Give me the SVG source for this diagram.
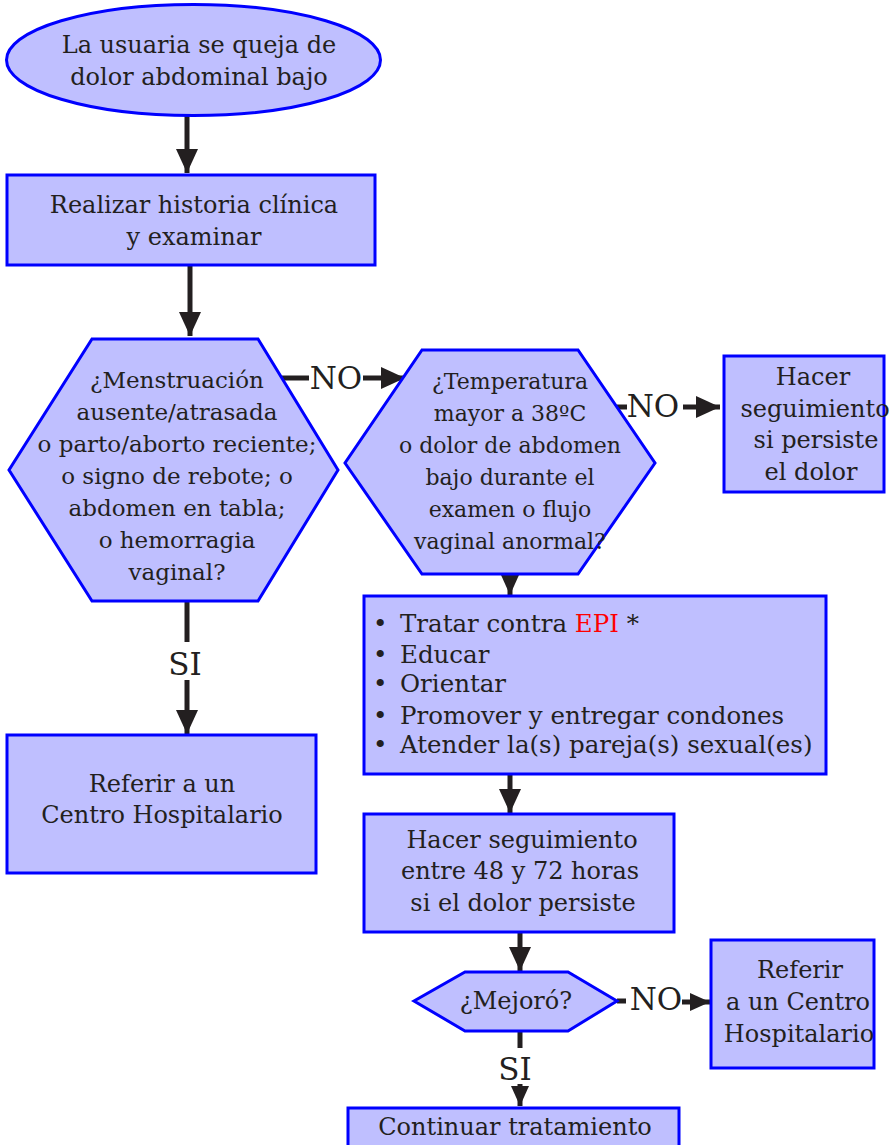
<svg xmlns="http://www.w3.org/2000/svg" width="891" height="1145" viewBox="0 0 891 1145">
  <style>
    .node { fill: #BFBFFF; stroke: #0000FF; stroke-width: 3; }
    .t { font-family: "DejaVu Serif", "Liberation Serif", serif; fill: #231F20; text-anchor: middle; }
    .t24 { font-size: 24px; }
    .t23 { font-size: 23px; }
    .t22 { font-size: 22px; }
    .lbl { font-family: "DejaVu Serif", "Liberation Serif", serif; fill: #231F20; font-size: 31px; text-anchor: middle; }
    .bul { font-family: "DejaVu Serif", "Liberation Serif", serif; fill: #231F20; font-size: 24.5px; }
    .edge { stroke: #231F20; stroke-width: 5; fill: none; }
  </style>
  <defs>
    <marker id="arrow" markerUnits="userSpaceOnUse" markerWidth="24" markerHeight="22" refX="24" refY="11" orient="auto">
      <path d="M0,0 L24,11 L0,22 Z" fill="#231F20"/>
    </marker>
    <marker id="arrowSmall" markerUnits="userSpaceOnUse" markerWidth="20" markerHeight="20" refX="20" refY="10" orient="auto">
      <path d="M0,1 L20,10 L0,19 Z" fill="#231F20"/>
    </marker>
  </defs>

  <!-- connectors -->
  <g id="connectors">
    <line class="edge" x1="187" y1="116" x2="187" y2="173" marker-end="url(#arrow)"/>
    <line class="edge" x1="190" y1="266" x2="190" y2="336" marker-end="url(#arrow)"/>
    <!-- hex1 NO -> hex2 -->
    <line class="edge" x1="282" y1="378" x2="309" y2="378"/>
    <line class="edge" x1="363" y1="378" x2="405" y2="378" marker-end="url(#arrow)"/>
    <text class="lbl" x="336" y="389">NO</text>
    <!-- hex1 SI -> referir -->
    <line class="edge" x1="187" y1="601" x2="187" y2="642"/>
    <line class="edge" x1="187" y1="680" x2="187" y2="734" marker-end="url(#arrow)"/>
    <text class="lbl" x="185" y="675">SI</text>
    <!-- hex2 NO -> seguimiento -->
    <line class="edge" x1="617" y1="407" x2="627" y2="407"/>
    <line class="edge" x1="683" y1="407" x2="720" y2="407" marker-end="url(#arrow)"/>
    <text class="lbl" x="653" y="417">NO</text>
    <!-- hex2 -> tratar -->
    <line class="edge" x1="510" y1="574" x2="510" y2="595" marker-end="url(#arrowSmall)"/>
    <!-- tratar -> seguimiento 48-72 -->
    <line class="edge" x1="510" y1="775" x2="510" y2="813" marker-end="url(#arrow)"/>
    <!-- seguimiento -> mejoró -->
    <line class="edge" x1="520" y1="933" x2="520" y2="971" marker-end="url(#arrow)"/>
    <!-- mejoró NO -> referir -->
    <line class="edge" x1="617" y1="1001" x2="626" y2="1001"/>
    <line class="edge" x1="682" y1="1002" x2="710" y2="1002" marker-end="url(#arrowSmall)"/>
    <text class="lbl" x="656" y="1010">NO</text>
    <!-- mejoró SI -> continuar -->
    <line class="edge" x1="520" y1="1031" x2="520" y2="1048"/>
    <line class="edge" x1="520" y1="1084" x2="520" y2="1106" marker-end="url(#arrowSmall)"/>
    <text class="lbl" x="515" y="1080">SI</text>
  </g>

  <g id="inicio">
    <ellipse class="node" cx="193.5" cy="60" rx="187" ry="55.5"/>
    <text class="t t24" x="199" y="53">La usuaria se queja de</text>
    <text class="t t24" x="199" y="85">dolor abdominal bajo</text>
  </g>

  <g id="historia">
    <rect class="node" x="7" y="175" width="368" height="90"/>
    <text class="t t24" x="194" y="213">Realizar historia clínica</text>
    <text class="t t24" x="194" y="245">y examinar</text>
  </g>

  <g id="pregunta-menstruacion">
    <polygon class="node" points="92,339 258,339 338,470 258,601 92,601 9,470"/>
    <text class="t t23" x="177" y="388">¿Menstruación</text>
    <text class="t t23" x="177" y="420">ausente/atrasada</text>
    <text class="t t23" x="177" y="452">o parto/aborto reciente;</text>
    <text class="t t23" x="177" y="484">o signo de rebote; o</text>
    <text class="t t23" x="177" y="516">abdomen en tabla;</text>
    <text class="t t23" x="177" y="548">o hemorragia</text>
    <text class="t t23" x="177" y="580">vaginal?</text>
  </g>

  <g id="pregunta-temperatura">
    <polygon class="node" points="422,350 578,350 655,463 578,574 422,574 345,463"/>
    <text class="t t22" x="510" y="389">¿Temperatura</text>
    <text class="t t22" x="510" y="421">mayor a 38ºC</text>
    <text class="t t22" x="510" y="453">o dolor de abdomen</text>
    <text class="t t22" x="510" y="485">bajo durante el</text>
    <text class="t t22" x="510" y="517">examen o flujo</text>
    <text class="t t22" x="510" y="549">vaginal anormal?</text>
  </g>

  <g id="seguimiento-dolor">
    <rect class="node" x="724" y="356" width="160" height="136"/>
    <text class="t t24" x="813" y="385">Hacer</text>
    <text class="t t24" x="815" y="417">seguimiento</text>
    <text class="t t24" x="816" y="448">si persiste</text>
    <text class="t t24" x="811" y="480">el dolor</text>
  </g>

  <g id="referir-hospital">
    <rect class="node" x="7" y="735" width="309" height="138"/>
    <text class="t t24" x="162" y="792">Referir a un</text>
    <text class="t t24" x="162" y="823">Centro Hospitalario</text>
  </g>

  <g id="tratamiento">
    <rect class="node" x="364" y="596" width="462" height="178"/>
    <text class="bul" y="632"><tspan x="373">•</tspan><tspan x="400">Tratar contra </tspan><tspan fill="#FF0000">EPI</tspan><tspan> *</tspan></text>
    <text class="bul" y="663"><tspan x="373">•</tspan><tspan x="400">Educar</tspan></text>
    <text class="bul" y="692"><tspan x="373">•</tspan><tspan x="400">Orientar</tspan></text>
    <text class="bul" y="724"><tspan x="373">•</tspan><tspan x="400">Promover y entregar condones</tspan></text>
    <text class="bul" y="753"><tspan x="373">•</tspan><tspan x="400">Atender la(s) pareja(s) sexual(es)</tspan></text>
  </g>

  <g id="seguimiento-48-72">
    <rect class="node" x="364" y="814" width="310" height="118"/>
    <text class="t t24" x="522" y="848">Hacer seguimiento</text>
    <text class="t t24" x="520" y="879">entre 48 y 72 horas</text>
    <text class="t t24" x="523" y="911">si el dolor persiste</text>
  </g>

  <g id="pregunta-mejoro">
    <polygon class="node" points="465,972 568,972 617,1001 568,1031 465,1031 414,1001"/>
    <text class="t t24" x="516" y="1009">¿Mejoró?</text>
  </g>

  <g id="referir-centro">
    <rect class="node" x="711" y="940" width="163" height="128"/>
    <text class="t t24" x="800" y="978">Referir</text>
    <text class="t t24" x="798" y="1010">a un Centro</text>
    <text class="t t24" x="799" y="1042">Hospitalario</text>
  </g>

  <g id="continuar">
    <rect class="node" x="348" y="1108" width="331" height="40"/>
    <text class="t t24" x="515" y="1135">Continuar tratamiento</text>
  </g>
</svg>
